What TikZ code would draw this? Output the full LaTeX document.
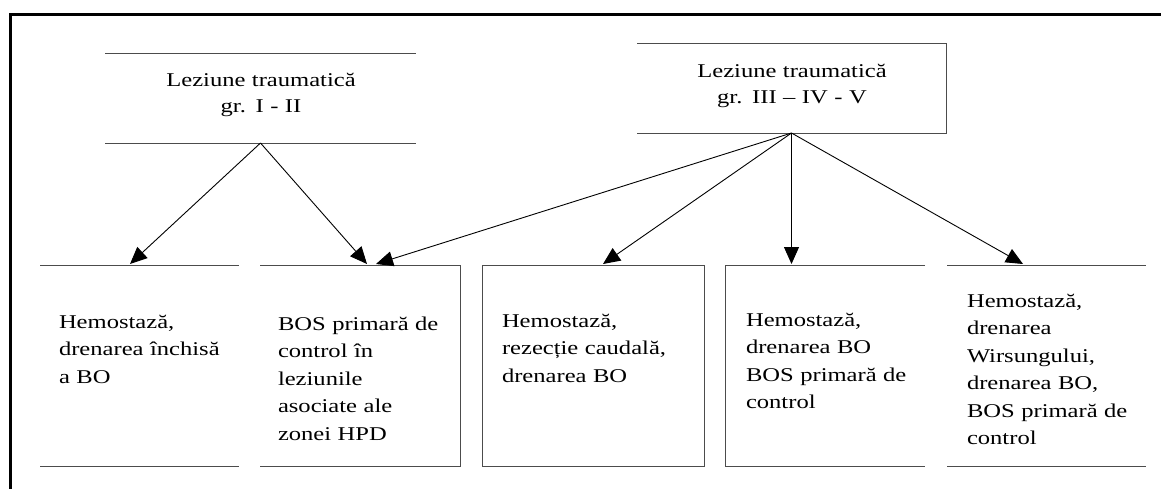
\documentclass[tikz,border=0pt]{standalone}
\usepackage{fontspec}
\setmainfont{Liberation Serif}[FakeStretch=1.26]
\usetikzlibrary{arrows.meta}
\tikzset{
  boxshape/.style={rectangle, draw=none, inner sep=0pt, outer sep=0pt, minimum height=201pt},
  edge/.style={draw=black!70, line width=0.9pt},
  arr/.style={draw=black, line width=0.9pt, -{Triangle[length=17pt,width=15pt]}},
  txt/.style={inner sep=0pt, outer sep=0pt, anchor=base west, align=left, text width=210pt,
    font=\fontsize{19.5}{27.5}\selectfont},
  toptxt/.style={inner sep=0pt, outer sep=0pt, anchor=base, align=center, text width=300pt,
    font=\fontsize{19.5}{26.5}\selectfont}
}
\begin{document}
\begin{tikzpicture}[x=1pt,y=-1pt]
\useasboundingbox[fill=white] (0,0) rectangle (1161,488);
% outer frame (partly outside the picture)
\draw[line width=3pt] (1175,14.5) -- (10.5,14.5) -- (10.5,505);

% top boxes
\node[boxshape, minimum width=311pt, minimum height=90pt] (tl) at (260.5,98) {};
\node[boxshape, minimum width=309pt, minimum height=90pt] (tr) at (791.5,88) {};
\draw[edge] (tl.north west) -- (tl.north east);
\draw[edge] (tl.south west) -- (tl.south east);
\draw[edge] (tr.north west) -- (tr.north east) -- (tr.south east) -- (tr.south west);
\node[toptxt] (tltext) at (261,86) {Leziune traumatică\\gr. I - II};
\node[toptxt] (trtext) at (792,77) {Leziune traumatică\\gr. III – IV - V};

% bottom boxes
\node[boxshape, minimum width=199pt] (b1) at (139.5,365.5) {};
\node[boxshape, minimum width=200pt] (b2) at (360,365.5) {};
\node[boxshape, minimum width=222pt] (b3) at (593,365.5) {};
\node[boxshape, minimum width=200pt] (b4) at (825,365.5) {};
\node[boxshape, minimum width=199pt] (b5) at (1046.5,365.5) {};
\draw[edge] (b1.north west) -- (b1.north east);
\draw[edge] (b1.south west) -- (b1.south east);
\draw[edge] (b2.north west) -- (b2.north east) -- (b2.south east) -- (b2.south west);
\draw[edge] (b3.north west) rectangle (b3.south east);
\draw[edge] (b4.north east) -- (b4.north west) -- (b4.south west) -- (b4.south east);
\draw[edge] (b5.north west) -- (b5.north east);
\draw[edge] (b5.south west) -- (b5.south east);

\node[txt] (t1) at (59,328) {Hemostază,\\drenarea închisă\\a BO};
\node[txt] (t2) at (278,330) {BOS primară de\\control în\\leziunile\\asociate ale\\zonei HPD};
\node[txt] (t3) at (502,327) {Hemostază,\\rezecție caudală,\\drenarea BO};
\node[txt] (t4) at (746,326) {Hemostază,\\drenarea BO\\BOS primară de\\control};
\node[txt] (t5) at (967,307) {Hemostază,\\drenarea\\Wirsungului,\\drenarea BO,\\BOS primară de\\control};

% arrow end points on the box tops
\coordinate (p1) at (130,264);
\coordinate (p2) at (367,264);
\coordinate (p3) at (376,264);
\coordinate (p4) at (603,264);
\coordinate (p5) at (791.5,264);
\coordinate (p6) at (1023,264);

\draw[arr] (tl.south) -- (p1);
\draw[arr] (tl.south) -- (p2);
\draw[arr] (tr.south) -- (p3);
\draw[arr] (tr.south) -- (p4);
\draw[arr] (tr.south) -- (p5);
\draw[arr] (tr.south) -- (p6);
\end{tikzpicture}
\end{document}
